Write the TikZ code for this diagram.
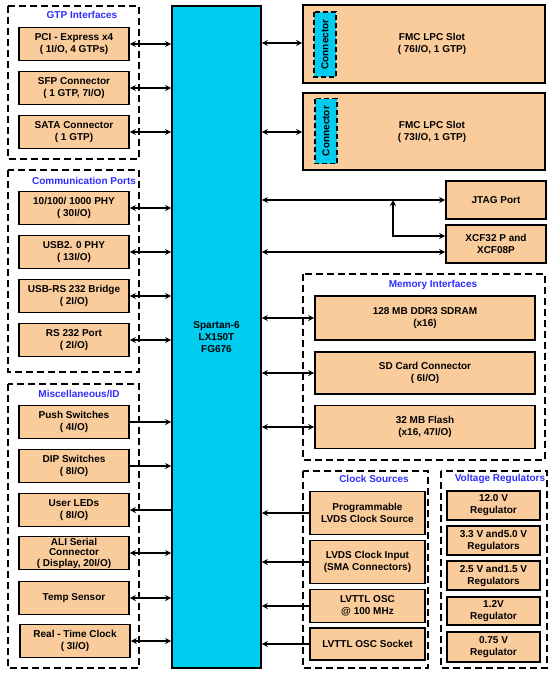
\documentclass[tikz,border=0pt]{standalone}
\usepackage{fontspec}
\setmainfont{Liberation Sans}
\usetikzlibrary{arrows.meta}

\definecolor{slotfill}{RGB}{250,204,156}
\definecolor{chipfill}{RGB}{0,204,240}
\definecolor{titleblue}{RGB}{45,45,255}

\begin{document}
\begin{tikzpicture}[
    x=1pt, y=-1pt,
    >={Stealth[length=6pt, width=6pt]},
    every node/.style={font=\bfseries\fontsize{10}{12}\selectfont, align=center},
    part/.style={draw=black, line width=1.6pt, fill=slotfill, inner sep=0pt},
    leftpart/.style={part, minimum width=110, minimum height=33},
    clockpart/.style={part, minimum width=115},
    vregpart/.style={part, minimum width=93},
    mempart/.style={part, minimum width=220},
    conn/.style={draw=black, line width=1.5pt, dash pattern=on 5pt off 3pt, fill=chipfill,
                 rotate=90, minimum width=65, minimum height=22, inner sep=0pt},
    group/.style={draw=black, line width=1.3pt, dash pattern=on 7pt off 4pt},
    grouptitle/.style={text=titleblue},
    link/.style={line width=1.6pt}
]
   \useasboundingbox (0,0) rectangle (554,677);

   % FPGA
   \node[draw=black, line width=1.6pt, fill=chipfill, minimum width=89, minimum height=662] (fpga) at (216.5,337)
        {Spartan-6\\LX150T\\FG676};

   % Groups
   \draw[group] (8,6) rectangle (139,159);
   \draw[group] (8,170) rectangle (139,372);
   \draw[group] (8,384) rectangle (139,668);
   \draw[group] (303,274) rectangle (545,460);
   \draw[group] (303,471) rectangle (428,668);
   \draw[group] (441,471) rectangle (547,668);
   \node[grouptitle] (gtpT) at (82,15) {GTP Interfaces};
   \node[grouptitle] (comT) at (84,181) {Communication Ports};
   \node[grouptitle] (miscT) at (79,394) {Miscellaneous/ID};
   \node[grouptitle] (memT) at (433,285) {Memory Interfaces};
   \node[grouptitle] (clkT) at (374,479) {Clock Sources};
   \node[grouptitle] (vregT) at (500,479) {Voltage Regulators};

   % GTP interfaces
   \node[leftpart] (pci) at (74,44) {PCI - Express x4\\( 1I/O, 4 GTPs)};
   \node[leftpart] (sfp) at (74,88) {SFP Connector\\( 1 GTP, 7I/O)};
   \node[leftpart] (sata) at (74,132) {SATA Connector\\( 1 GTP)};

   % Communication ports
   \node[leftpart] (phy) at (74,208) {10/100/ 1000 PHY\\( 30I/O)};
   \node[leftpart] (usb) at (74,252) {USB2. 0 PHY\\( 13I/O)};
   \node[leftpart] (bridge) at (74,296) {USB-RS 232 Bridge\\( 2I/O)};
   \node[leftpart] (rs) at (74,340) {RS 232 Port\\( 2I/O)};

   % Miscellaneous
   \node[leftpart] (push) at (74,422) {Push Switches\\( 4I/O)};
   \node[leftpart] (dip) at (74,466) {DIP Switches\\( 8I/O)};
   \node[leftpart] (led) at (74,510) {User LEDs\\( 8I/O)};
   \node[leftpart, font=\bfseries\fontsize{10}{10.5}\selectfont] (ali) at (74,553) {ALI Serial\\Connector\\( Display, 20I/O)};
   \node[leftpart] (temp) at (74,598) {Temp Sensor};
   \node[leftpart] (rtc) at (75,641) {Real - Time Clock\\( 3I/O)};

   % FMC slots
   \node[part, minimum width=242, minimum height=78] (fmcA) at (424,44) {};
   \node at ([xshift=8pt]fmcA.center) (fmcAT) {FMC LPC Slot\\( 76I/O, 1 GTP)};
   \node[conn] (connA) at (325,44.5) {Connector};
   \node[part, minimum width=242, minimum height=77] (fmcB) at (424,131.5) {};
   \node at ([xshift=8pt]fmcB.center) (fmcBT) {FMC LPC Slot\\( 73I/O, 1 GTP)};
   \node[conn] (connB) at (326,131) {Connector};

   % Configuration
   \node[part, minimum width=100, minimum height=38] (jtag) at (496,200) {JTAG Port};
   \node[part, minimum width=100, minimum height=38] (xcf) at (496,244) {XCF32 P and\\XCF08P};
   \coordinate (tap) at (393,200);

   % Memory
   \node[mempart, minimum height=44] (ddr) at (425,318) {128 MB DDR3 SDRAM\\(x16)};
   \node[mempart, minimum height=42] (sd) at (425,373) {SD Card Connector\\( 6I/O)};
   \node[mempart, minimum height=43] (flash) at (425,427) {32 MB Flash\\(x16, 47I/O)};

   % Clock sources
   \node[clockpart, minimum height=43] (prog) at (367.5,513) {Programmable\\LVDS Clock Source};
   \node[clockpart, minimum height=43] (lvds) at (367.5,562) {LVDS Clock Input\\(SMA Connectors)};
   \node[clockpart, minimum height=33] (osc) at (367.5,606) {LVTTL OSC\\@ 100 MHz};
   \node[clockpart, minimum height=32] (sock) at (367.5,644) {LVTTL OSC Socket};

   % Voltage regulators
   \node[vregpart, minimum height=29] (v12) at (493.5,505.5) {12.0 V\\Regulator};
   \node[vregpart, minimum height=29] (v33) at (493.5,540.5) {3.3 V and5.0 V\\Regulators};
   \node[vregpart, minimum height=29] (v25) at (493.5,575.5) {2.5 V and1.5 V\\Regulators};
   \node[vregpart, minimum height=28] (v1p2) at (493.5,611) {1.2V\\Regulator};
   \node[vregpart, minimum height=30] (v075) at (493.5,647) {0.75 V\\Regulator};

   % Links, left side
   \path[link]
   (pci.east) edge[<->] (pci.east -| fpga.west)
   (sfp.east) edge[<->] (sfp.east -| fpga.west)
   (sata.east) edge[<->] (sata.east -| fpga.west)
   (phy.east) edge[<->] (phy.east -| fpga.west)
   (usb.east) edge[<->] (usb.east -| fpga.west)
   (bridge.east) edge[<->] (bridge.east -| fpga.west)
   (rs.east) edge[<->] (rs.east -| fpga.west)
   (push.east) edge[->] (push.east -| fpga.west)
   (dip.east) edge[->] (dip.east -| fpga.west)
   (led.east -| fpga.west) edge[->] (led.east)
   (ali.east) edge[<->] (ali.east -| fpga.west)
   (temp.east) edge[<->] (temp.east -| fpga.west)
   (rtc.east) edge[<->] (rtc.east -| fpga.west);

   % Links, right side
   \path[link]
   (fmcA.west |- 0,43) edge[<->] (fpga.east |- 0,43)
   (fmcB.west |- 0,132) edge[<->] (fpga.east |- 0,132)
   (jtag.west) edge[<->] (jtag.west -| fpga.east)
   ([yshift=-8pt]xcf.west) edge[<->] ([yshift=-8pt]xcf.west -| fpga.east)
   (ddr.west) edge[<->] (ddr.west -| fpga.east)
   (sd.west) edge[<->] (sd.west -| fpga.east)
   (flash.west) edge[<->] (flash.west -| fpga.east)
   (prog.west) edge[->] (prog.west -| fpga.east)
   (lvds.west) edge[->] (lvds.west -| fpga.east)
   (osc.west) edge[->] (osc.west -| fpga.east)
   (sock.west) edge[->] (sock.west -| fpga.east);
   \draw[link, <->] ([yshift=8pt]xcf.west) -| (tap);
\end{tikzpicture}
\end{document}
